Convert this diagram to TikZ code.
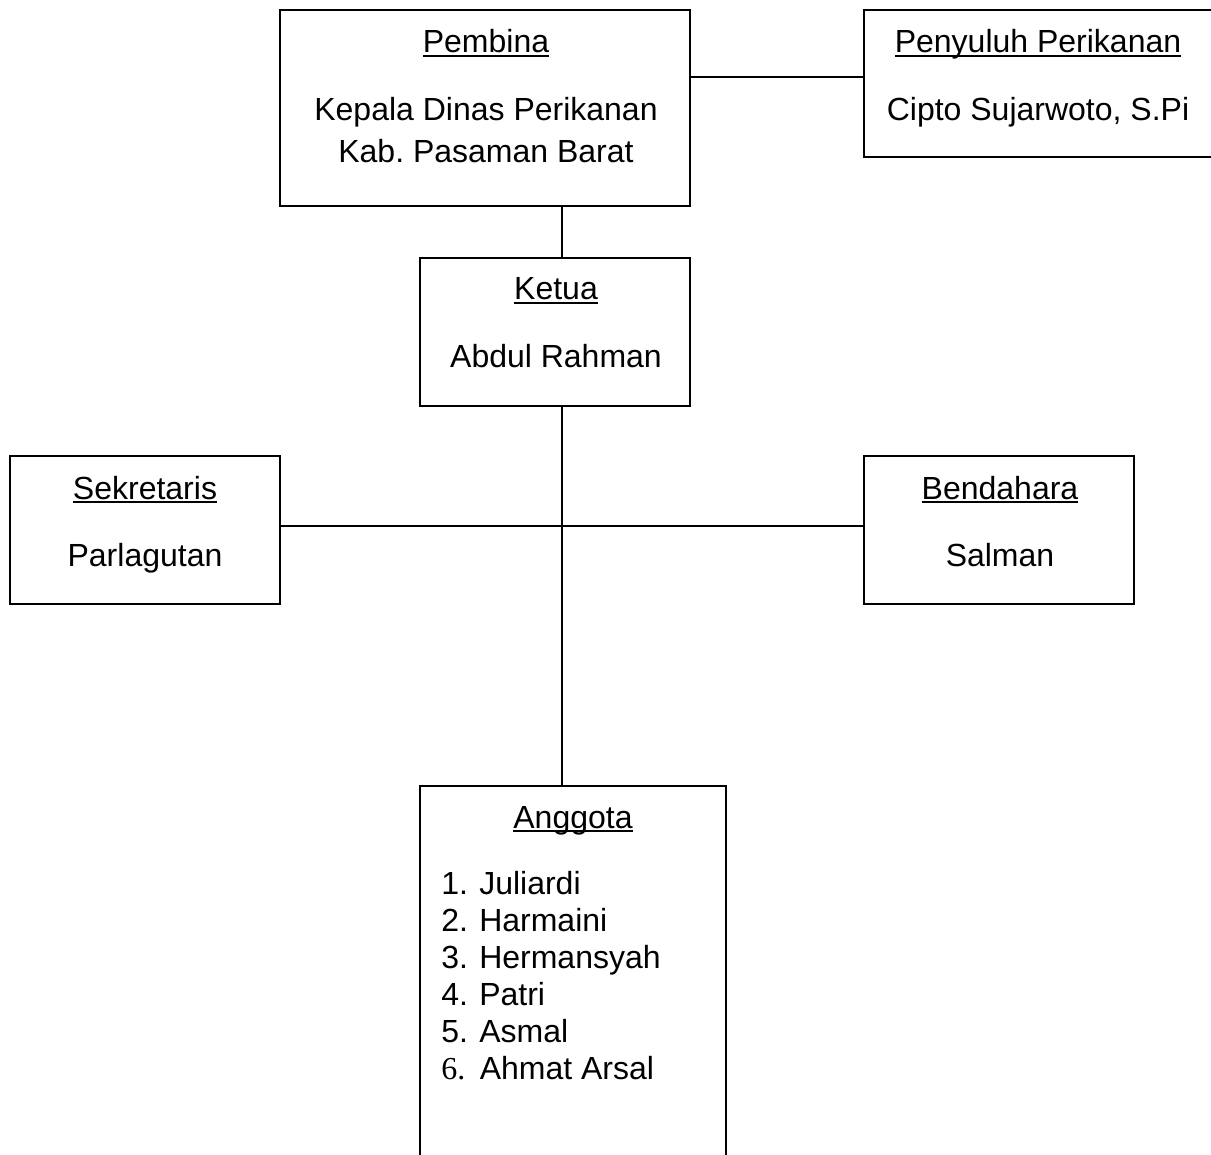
\documentclass[tikz,border=0pt]{standalone}
\usepackage{fontspec}
\setmainfont{Liberation Sans}
\newfontfamily\serifnum{Liberation Serif}
\usetikzlibrary{fit}
\frenchspacing
\newcommand{\ulx}[1]{\setbox0\hbox{#1}\rlap{\rule[-0.12em]{\wd0}{0.065em}}\box0}
\tikzset{
  box/.style={draw=black, line width=1pt, inner sep=0pt, rectangle},
  txt/.style={anchor=base, inner sep=0pt, font=\fontsize{16}{18.5}\selectfont},
  ltxt/.style={anchor=base west, inner sep=0pt, font=\fontsize{16}{18.5}\selectfont},
  conn/.style={draw=black, line width=1pt}
}
\begin{document}
\begin{tikzpicture}[x=0.5pt,y=-0.5pt]
\useasboundingbox (0,0) rectangle (1211,1155);
% boxes
\node[box, fit={(280,10) (690,206)}] (pembina) {};
\node[box, fit={(864,10) (1216,157)}] (penyuluh) {};
\node[box, fit={(420,258) (690,406)}] (ketua) {};
\node[box, fit={(10,456) (280,604)}] (sekretaris) {};
\node[box, fit={(864,456) (1134,604)}] (bendahara) {};
\node[box, fit={(420,786) (726,1160)}] (anggota) {};
% texts
\node[txt] (t1) at (486,53) {\ulx{Pembina}};
\node[txt] (t2) at (486,121) {Kepala Dinas Perikanan};
\node[txt] (t3) at (486,163) {Kab.\ Pasaman Barat};
\node[txt] (t4) at (1038,53) {\ulx{Penyuluh Perikanan}};
\node[txt] (t5) at (1038,121) {Cipto Sujarwoto, S.Pi};
\node[txt] (t6) at (556,300) {\ulx{Ketua}};
\node[txt] (t7) at (556,368) {Abdul Rahman};
\node[txt] (t8) at (145,499) {\ulx{Sekretaris}};
\node[txt] (t9) at (145,566) {Parlagutan};
\node[txt] (t10) at (1000,499) {\ulx{Bendahara}};
\node[txt] (t11) at (1000,566) {Salman};
\node[txt] (t12) at (573,828) {\ulx{Anggota}};
\node[ltxt] (l1) at (441,894) {1.\hspace{0.35em}Juliardi};
\node[ltxt] (l2) at (441,931) {2.\hspace{0.35em}Harmaini};
\node[ltxt] (l3) at (441,968) {3.\hspace{0.35em}Hermansyah};
\node[ltxt] (l4) at (441,1005) {4.\hspace{0.35em}Patri};
\node[ltxt] (l5) at (441,1042) {5.\hspace{0.35em}Asmal};
\node[ltxt] (l6) at (441,1079) {{\serifnum 6.}\hspace{0.45em}Ahmat Arsal};
% connector helpers
\coordinate (hy1) at (0,77);
\coordinate (cx) at (562,0);
\coordinate (hy2) at (0,526);
% connectors
\draw[conn] (pembina.east |- hy1) -- (penyuluh.west |- hy1);
\draw[conn] (pembina.south -| cx) -- (ketua.north -| cx);
\draw[conn] (ketua.south -| cx) -- (anggota.north -| cx);
\draw[conn] (sekretaris.east |- hy2) -- (bendahara.west |- hy2);
\end{tikzpicture}
\end{document}
